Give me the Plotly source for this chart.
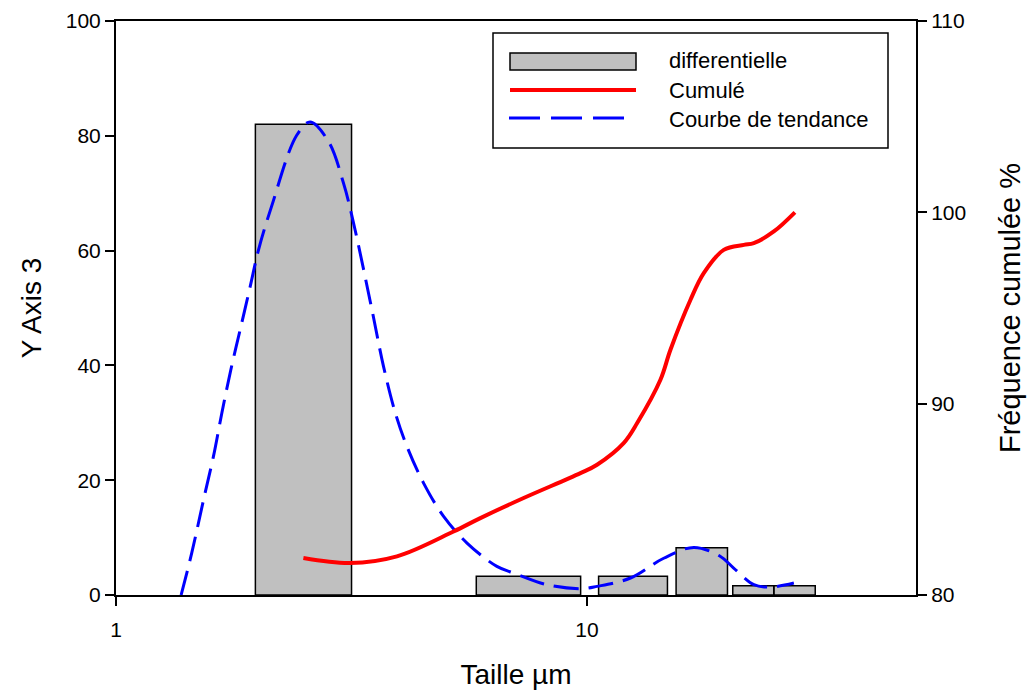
import plotly.graph_objects as go

# Histogram bins (µm) and differential values (left axis)
bin_left = [1.977, 5.823, 10.59, 15.47, 20.41, 24.95]
bin_right = [3.164, 9.70, 14.83, 19.89, 24.95, 30.55]
diff_values = [82.0, 3.25, 3.25, 8.24, 1.62, 1.62]

# Cumulative curve (right axis)
cum_x = [2.50, 3.14, 3.95, 5.21, 5.94, 7.34, 9.69, 10.51, 11.97, 12.79,
         14.33, 15.05, 16.6, 17.71, 19.53, 21.55, 22.62, 24.95, 27.66]
cum_y = [81.93, 81.67, 82.02, 83.32, 84.02, 85.07, 86.37, 86.81, 87.94, 88.99,
         91.25, 92.82, 95.43, 96.82, 98.04, 98.30, 98.39, 99.0, 100.0]

# Trend curve (left axis)
trend_x = [1.375, 1.448, 1.546, 1.61, 1.678, 1.753, 1.835, 1.927, 2.007, 2.14, 2.42,
           2.584, 2.827, 3.043, 3.195, 3.496, 3.70, 3.92, 4.148, 4.50, 4.963, 5.565,
           6.44, 6.99, 8.23, 9.69, 10.51, 12.38, 14.56, 16.87, 19.22, 20.5, 22.63,
           24.55, 27.52]
trend_y = [0, 7.3, 17.8, 24.1, 31.7, 39.2, 46.2, 53.7, 60.1, 67.7, 80.1,
           82.4, 79.0, 71.7, 64.8, 49.7, 39.8, 31.7, 25.9, 19.5, 13.7, 9.05,
           4.98, 3.83, 1.79, 1.1, 1.5, 2.96, 6.4, 8.29, 6.72, 4.7, 1.8,
           1.39, 2.09]

legend_names = ["differentielle", "Cumulé", "Courbe de tendance"]

# Build bar rectangles from the bin data
bx, by = [], []
for l, r, h in zip(bin_left, bin_right, diff_values):
    bx += [l, l, r, r, l, None]
    by += [0, h, h, 0, 0, None]

FONT = "Liberation Sans, Arial, sans-serif"
W, H = 1027, 693
ML, MR, MT, MB = 116, 111, 21, 98
PW, PH = W - ML - MR, H - MT - MB


def px(x):
    return (x - ML) / PW


def py(y):
    return (H - MB - y) / PH


fig = go.Figure()
fig.add_trace(go.Scatter(
    x=bx, y=by, mode="lines", fill="toself", fillcolor="#c0c0c0",
    line=dict(color="black", width=1.5), name=legend_names[0], yaxis="y"))
fig.add_trace(go.Scatter(
    x=cum_x, y=cum_y, mode="lines", line=dict(color="#ff0000", width=4, shape="spline"),
    name=legend_names[1], yaxis="y2"))
fig.add_trace(go.Scatter(
    x=trend_x, y=trend_y, mode="lines",
    line=dict(color="#0000ff", width=3, dash="25px,10px", shape="spline"),
    name=legend_names[2], yaxis="y"))

axis_common = dict(showline=True, linecolor="black", linewidth=2, ticks="outside",
                   ticklen=9, tickwidth=2, tickcolor="black", showgrid=False,
                   zeroline=False, automargin=False,
                   tickfont=dict(size=21, color="black", family=FONT))

# Manual legend (box, symbols, labels)
shapes = [
    dict(type="rect", xref="paper", yref="paper", x0=px(493), x1=px(888), y0=py(148), y1=py(33),
         fillcolor="white", line=dict(color="black", width=1.5), layer="above"),
    dict(type="rect", xref="paper", yref="paper", x0=px(510), x1=px(636), y0=py(70), y1=py(53),
         fillcolor="#c0c0c0", line=dict(color="black", width=1.5), layer="above"),
    dict(type="line", xref="paper", yref="paper", x0=px(510), x1=px(636), y0=py(90), y1=py(90),
         line=dict(color="#ff0000", width=4), layer="above"),
    dict(type="line", xref="paper", yref="paper", x0=px(509), x1=px(625), y0=py(118), y1=py(118),
         line=dict(color="#0000ff", width=3, dash="31px,11px"), layer="above"),
]
annotations = [
    dict(text=t, xref="paper", yref="paper", x=px(667), y=py(yy), xanchor="left",
         yanchor="middle", showarrow=False, font=dict(size=22, color="black", family=FONT))
    for t, yy in zip(legend_names, [61, 90, 119])
]

fig.update_layout(
    width=W, height=H,
    margin=dict(l=ML, r=MR, t=MT, b=MB, autoexpand=False),
    plot_bgcolor="white", paper_bgcolor="white",
    font=dict(family=FONT, color="black"),
    xaxis=dict(type="log", range=[0, 1.699], tickvals=[1, 10], ticktext=["1", "10"],
               mirror=True, ticklabelstandoff=6,
               title=dict(text="Taille µm", font=dict(size=28), standoff=24),
               **axis_common),
    yaxis=dict(range=[0, 100], tickvals=[0, 20, 40, 60, 80, 100],
               title=dict(text="Y Axis 3", font=dict(size=28), standoff=16),
               **axis_common),
    yaxis2=dict(range=[80, 110], tickvals=[80, 90, 100, 110], overlaying="y", side="right",
                title=dict(text="Fréquence cumulée %", font=dict(size=29), standoff=34),
                **axis_common),
    shapes=shapes,
    annotations=annotations,
    showlegend=False,
)

fig.write_html("out.html")
